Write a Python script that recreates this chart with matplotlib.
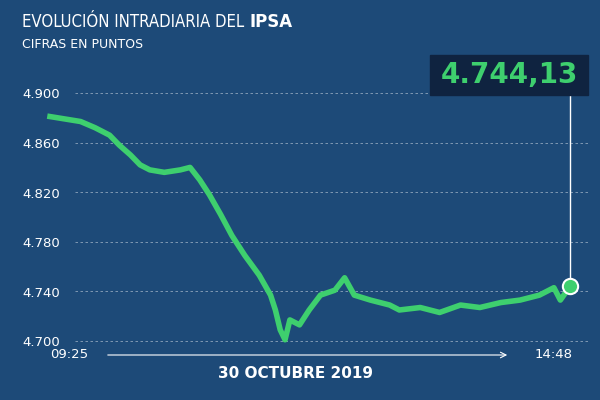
import matplotlib.pyplot as plt
import matplotlib.patches as mpatches

# minutes since 09:25 and IPSA level
minutes = [0, 19, 28, 37, 43, 50, 56, 62, 71, 81, 87, 93, 99, 106, 113, 121, 130,
           137, 140, 143, 146, 149, 155, 161, 168, 177, 183, 189, 199, 211, 217,
           230, 242, 255, 267, 280, 292, 304, 313, 317, 323]
ipsa = [4.881, 4.877, 4.872, 4.866, 4.858, 4.850, 4.842, 4.838, 4.836, 4.838,
        4.840, 4.830, 4.818, 4.802, 4.785, 4.769, 4.753, 4.737, 4.725, 4.709,
        4.701, 4.717, 4.713, 4.725, 4.737, 4.741, 4.751, 4.737, 4.733, 4.729,
        4.725, 4.727, 4.723, 4.729, 4.727, 4.731, 4.733, 4.737, 4.743, 4.733, 4.744]
yticks = [4.700, 4.740, 4.780, 4.820, 4.860, 4.900]
ytick_labels = ['4.700', '4.740', '4.780', '4.820', '4.860', '4.900']

bg = '#1d4a78'
green = '#3ecf6e'

fig = plt.figure(figsize=(6, 4), dpi=100, facecolor=bg)
ax = fig.add_axes([0, 0, 1, 1])
ax.set_facecolor(bg)
# pixel mapping: minute 0 at x=50, 323 at x=570; 4.700 at y=341, 4.900 at y=93
ppm = 520 / 323
ax.set_xlim(-50 / ppm, 550 / ppm)
vpp = 0.2 / 248
ax.set_ylim(4.700 - 59 * vpp, 4.900 + 93 * vpp)
ax.axis('off')

for v, lab in zip(yticks, ytick_labels):
    ax.plot([25 / ppm, 540 / ppm], [v, v], color='white', lw=0.6, ls=(0, (3, 3)), alpha=0.5)
    ax.text(-28 / ppm, v - 2 * vpp, lab, color='white', fontsize=9.5, va='center', ha='left')

ax.plot(minutes, ipsa, color=green, lw=4, solid_joinstyle='round', zorder=3)

# marker and callout
ax.plot([minutes[-1], minutes[-1]], [ipsa[-1], 4.900 + 2 * vpp], color='white', lw=1, zorder=2)
ax.plot(minutes[-1], ipsa[-1], 'o', ms=11, mfc=green, mec='white', mew=1.5, zorder=4)
fig.patches.append(mpatches.Rectangle((430 / 600, 1 - 95 / 400), 158 / 600, 40 / 400,
                                      transform=fig.transFigure, color='#0f2340', zorder=5))
fig.text(509 / 600, 1 - 75 / 400, '4.744,13', color=green, fontsize=20, fontweight='bold',
         ha='center', va='center', zorder=6)

# time axis
ax.annotate('', xy=(510 / ppm - 31.06, 4.700 - 14 * vpp), xytext=(105 / ppm - 31.06, 4.700 - 14 * vpp),
            arrowprops=dict(arrowstyle='->', color='white', lw=0.8))
fig.text(50 / 600, 1 - 355 / 400, '09:25', color='white', fontsize=9.5, va='center')
fig.text(535 / 600, 1 - 355 / 400, '14:48', color='white', fontsize=9.5, va='center')
fig.text(295 / 600, 1 - 373 / 400, '30 OCTUBRE 2019', color='white', fontsize=11,
         fontweight='bold', ha='center', va='center')

t1 = fig.text(22 / 600, 1 - 22 / 400, 'EVOLUCIÓN INTRADIARIA DEL', color='white',
              fontsize=12, va='center', fontstretch='condensed')
fig.canvas.draw()
bb = t1.get_window_extent()
fig.text((bb.x1 + 5) / 600, 1 - 22 / 400, 'IPSA', color='white', fontsize=12,
         fontweight='bold', va='center')
fig.text(22 / 600, 1 - 45 / 400, 'CIFRAS EN PUNTOS', color='white', fontsize=9, va='center')

fig.savefig('out.png', dpi=100, facecolor=bg)
